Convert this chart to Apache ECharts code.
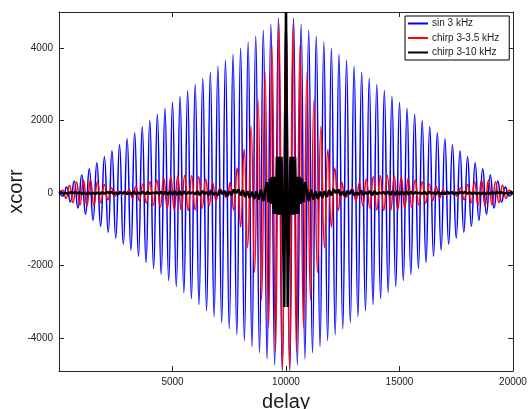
<!DOCTYPE html>
<html>
<head>
<meta charset="utf-8">
<script src="https://cdn.jsdelivr.net/npm/echarts@6/dist/echarts.min.js"></script>
<style>
html, body { margin: 0; padding: 0; background: #fff; }
#chart { width: 528px; height: 409px; }
</style>
</head>
<body>
<div id="chart"></div>
<script>
//--------------------------------
// Data (one side of each xcorr, lag offset from the centre lag 10000)
//--------------------------------
const centerLag = 10000;

const xTicks = [5000, 10000, 15000, 20000];
const yTicks = [-4000, -2000, 0, 2000, 4000];

// sin 3 kHz : peaks / troughs
const blueOffset = [0, 167, 333, 500, 667, 833, 1000, 1167, 1333, 1500, 1667, 1833, 2000, 2167, 2333, 2500,
    2667, 2833, 3000, 3167, 3333, 3500, 3667, 3833, 4000, 4167, 4333, 4500, 4667, 4833, 5000, 5167, 5333,
    5500, 5667, 5833, 6000, 6167, 6333, 6500, 6667, 6833, 7000, 7167, 7333, 7500, 7667, 7833, 8000, 8167,
    8333, 8500, 8667, 8833, 9000, 9167, 9333, 9500, 9667, 9833, 10000];
const blueValue = [5000, -4917, 4833, -4750, 4667, -4583, 4500, -4417, 4333, -4250, 4167, -4083, 4000, -3917,
    3833, -3750, 3667, -3583, 3500, -3417, 3333, -3250, 3167, -3083, 3000, -2917, 2833, -2750, 2667, -2583,
    2500, -2417, 2333, -2250, 2167, -2083, 2000, -1917, 1833, -1750, 1667, -1583, 1500, -1417, 1333, -1250,
    1167, -1083, 1000, -917, 833, -750, 667, -583, 500, -417, 333, -250, 167, -83, 0];

// chirp 3-3.5 kHz : peaks / troughs
const redOffset = [0, 154, 308, 462, 615, 769, 923, 1077, 1231, 1385, 1538, 1692, 1846, 2000, 2154, 2308,
    2462, 2615, 2769, 2923, 3077, 3231, 3385, 3538, 3692, 3846, 4000, 4154, 4308, 4462, 4615, 4769, 4923,
    5077, 5231, 5385, 5538, 5692, 5846, 6000, 6154, 6308, 6462, 6615, 6769, 6923, 7077, 7231, 7385, 7538,
    7692, 7846, 8000, 8154, 8308, 8462, 8615, 8769, 8923, 9077, 9231, 9385, 9538, 9692, 9846, 10000];
const redValue = [5000, -4877, 4670, -4398, 4076, -3717, 3338, -2950, 2566, -2194, 1840, -1510, 1209, -936,
    689, -477, 291, -131, -4, 117, -210, 285, -345, 390, -424, 449, -468, 478, -482, 481, -476, 468, -457,
    443, -427, 408, -387, 365, -340, 312, -281, 248, -214, 177, -136, 93, -48, 2, 46, -95, 143, -189, 234,
    -274, 308, -335, 353, -360, 356, -339, 310, -267, 213, -148, 76, 0];

// chirp 3-10 kHz : spike, central blob and ripple band
const blackOffset = [0, 77, 154, 200, 250, 300, 350, 400, 440, 490, 540, 600, 650, 700, 770, 850, 1000,
    1100, 1200, 1300, 1400, 1500, 1600, 1700, 1800, 1900, 2000, 2100, 2200, 2300, 2400, 2500, 2600, 2700,
    2800, 2900, 3000, 3100, 3200, 3300, 3400, 3500, 3600, 3700, 3800, 3900, 4000, 4100, 4200, 4300, 4400,
    4500, 4600, 4700, 4800, 4900, 5000, 5100, 5200, 5300, 5400, 5500, 5600, 5700, 5800, 5900, 6000, 6100,
    6200, 6300, 6400, 6500, 6600, 6700, 6800, 6900, 7000, 7100, 7200, 7300, 7400, 7500, 7600, 7700, 7800,
    7900, 8000, 8100, 8200, 8300, 8400, 8500, 8600, 8700, 8800, 8900, 9000, 9100, 9200, 9300, 9400, 9500,
    9600, 9700, 9800, 9900, 10000];
const blackValue = [5000, -3150, -200, 1000, -600, 1000, -600, 1000, -580, 450, -580, 450, -300, 400, -250,
    300, -220, 91, -178, 45, -159, 35, -136, 51, -109, 79, -66, 102, -4, 94, -63, 35, -87, 51, -28, 76,
    -61, 6, -47, 69, -54, 16, -25, 51, -60, 52, -34, 12, -9, 25, -36, 43, -46, 47, -47, 46, -45, 45, -44, 42,
    -39, 35, -28, 19, -6, 8, -22, 33, -37, 30, -14, 8, -28, 34, -22, 3, -26, 31, -11, 19, -31, 12, -20, 28,
    -1, 27, -16, 19, -24, 10, -26, 6, -26, 7, -24, 11, -20, 18, -11, 24, -4, 21, -20, 3, -21, 19, 0];

const seriesName = ['sin 3 kHz', 'chirp 3-3.5 kHz', 'chirp 3-10 kHz'];
const seriesColor = ['#0000ff', '#ff0000', '#000000'];

//--------------------------------
// Local Function
//--------------------------------
// xcorr is symmetric round the centre lag
const mirror = (offsets, values) => {
    let pts = [];
    for (let i = offsets.length - 1; i > 0; i--) pts.push([centerLag - offsets[i], values[i]]);
    for (let i = 0; i < offsets.length; i++) pts.push([centerLag + offsets[i], values[i]]);
    return pts;
};

const font = 'Liberation Sans, Arial, Helvetica, sans-serif';
const frame = { show: true, onZero: false, lineStyle: { color: '#262626', width: 1 } };
const tick = { show: true, inside: true, length: 5, lineStyle: { color: '#262626' } };

var myChart = echarts.init(document.getElementById('chart'), null, { renderer: 'canvas' });

let options = {
    animation: false,
    backgroundColor: '#fff',
    grid: { left: 59, right: 15, top: 12, bottom: 38, containLabel: false, outerBoundsMode: 'none' },
    legend: {
        data: seriesName,
        orient: 'vertical',
        left: 405,
        top: 16,
        icon: 'rect',
        itemWidth: 20,
        itemHeight: 2,
        itemGap: 2.5,
        padding: [1.5, 10, 1.5, 3],
        borderColor: '#000',
        borderWidth: 1,
        backgroundColor: '#fff',
        textStyle: { fontFamily: font, fontSize: 10, lineHeight: 12, color: '#1a1a1a', padding: [0, 0, 0, -1] }
    },
    xAxis: [
        {
            type: 'value',
            min: 0,
            max: 20000,
            interval: 5000,
            name: 'delay',
            nameLocation: 'middle',
            nameGap: 21,
            nameMoveOverlap: false,
            nameTextStyle: { fontFamily: font, fontSize: 20, color: '#1a1a1a' },
            axisLine: frame,
            axisTick: tick,
            splitLine: { show: false },
            axisLabel: {
                showMinLabel: false,
                margin: 6,
                fontFamily: font,
                fontSize: 10,
                color: '#1a1a1a',
                formatter: (v) => (xTicks.includes(v) ? String(v) : '')
            }
        },
        {
            type: 'value',
            position: 'top',
            min: 0,
            max: 20000,
            interval: 5000,
            axisLine: frame,
            axisTick: tick,
            splitLine: { show: false },
            axisLabel: { show: false }
        }
    ],
    yAxis: [
        {
            type: 'value',
            min: -4917,
            max: 5000,
            splitNumber: 5,
            name: 'xcorr',
            nameLocation: 'middle',
            nameGap: 33,
            nameMoveOverlap: false,
            nameTextStyle: { fontFamily: font, fontSize: 20, color: '#1a1a1a' },
            axisLine: frame,
            axisTick: tick,
            splitLine: { show: false },
            axisLabel: {
                showMinLabel: false,
                showMaxLabel: false,
                margin: 6,
                fontFamily: font,
                fontSize: 10,
                color: '#1a1a1a',
                formatter: (v) => (yTicks.includes(v) ? String(v) : '')
            }
        },
        {
            type: 'value',
            position: 'right',
            min: -4917,
            max: 5000,
            splitNumber: 5,
            axisLine: frame,
            axisTick: tick,
            splitLine: { show: false },
            axisLabel: { show: false }
        }
    ],
    series: [
        {
            name: seriesName[0],
            type: 'line',
            data: mirror(blueOffset, blueValue),
            showSymbol: false,
            smooth: 0.5,
            color: seriesColor[0],
            lineStyle: { width: 1.5, color: seriesColor[0] }
        },
        {
            name: seriesName[1],
            type: 'line',
            data: mirror(redOffset, redValue),
            showSymbol: false,
            smooth: 0.5,
            color: seriesColor[1],
            lineStyle: { width: 1.5, color: seriesColor[1] }
        },
        {
            name: seriesName[2],
            type: 'line',
            data: mirror(blackOffset, blackValue),
            showSymbol: false,
            color: seriesColor[2],
            lineStyle: { width: 2.6, color: seriesColor[2] }
        }
    ]
};
myChart.setOption(options);
</script>
</body>
</html>
